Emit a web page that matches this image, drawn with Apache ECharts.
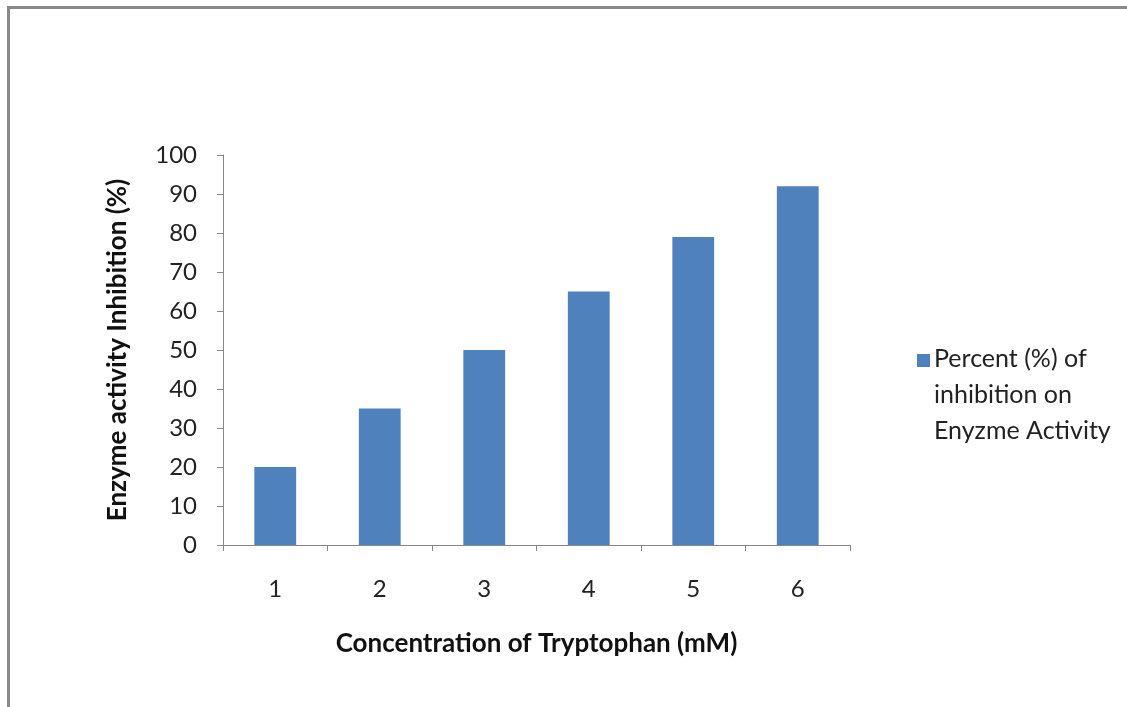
<!DOCTYPE html>
<html><head><meta charset="utf-8">
<script src="https://cdn.jsdelivr.net/npm/echarts@6/dist/echarts.min.js"></script>
<style>html,body{margin:0;padding:0;background:#fff}#c{width:1127px;height:707px}</style>
</head><body><div id="c"></div>
<script>
const categories = ['1','2','3','4','5','6'];
const values = [20, 35, 50, 65, 79, 92];
const seriesName = 'Percent (%) of\ninhibition on\nEnyzme Activity';
const xTitle = 'Concentration of Tryptophan (mM)';
const yTitle = 'Enzyme activity Inhibition (%)';
const FONT = 'Lato, "Open Sans", sans-serif';
const chart = echarts.init(document.getElementById('c'), null, {renderer:'canvas'});
chart.setOption({
  animation:false,
  graphic:[{type:'rect', shape:{x:8.5,y:7.5,width:1140,height:720}, style:{fill:'none',stroke:'#8a8a8a',lineWidth:3}}],
  grid:{left:223, top:155, width:627, height:390},
  legend:{show:true, left:912, top:336, orient:'vertical', itemWidth:13, itemHeight:108, itemGap:8,
    icon:'path://M0,0h0.05v0.05h-0.05Z M0,13h13v13h-13Z M0,107.95h0.05v0.05h-0.05Z',
    textStyle:{fontFamily:FONT, fontSize:25, color:'#222', lineHeight:36, padding:[0,0,0,-1]}, data:[seriesName]},
  xAxis:{type:'category', data:categories,
    axisLine:{lineStyle:{color:'#888', width:1}},
    axisTick:{show:true, length:6, lineStyle:{color:'#888'}},
    axisLabel:{fontFamily:FONT, fontSize:24, color:'#222', margin:32},
    name:xTitle, nameLocation:'middle', nameGap:86,
    nameTextStyle:{fontFamily:FONT, fontSize:26, fontWeight:'bold', color:'#111'}},
  yAxis:{type:'value', min:0, max:100, interval:10,
    axisLine:{show:true, lineStyle:{color:'#888', width:1}},
    axisTick:{show:true, length:6, lineStyle:{color:'#888'}},
    splitLine:{show:false},
    axisLabel:{fontFamily:FONT, fontSize:24, color:'#222', margin:26},
    name:yTitle, nameLocation:'middle', nameGap:92, nameRotate:90,
    nameTextStyle:{fontFamily:FONT, fontSize:26, fontWeight:'bold', color:'#111'}},
  series:[{type:'bar', name:seriesName, data:values, barCategoryGap:'60%',
    itemStyle:{color:'#4F81BD'}}]
});
</script></body></html>
